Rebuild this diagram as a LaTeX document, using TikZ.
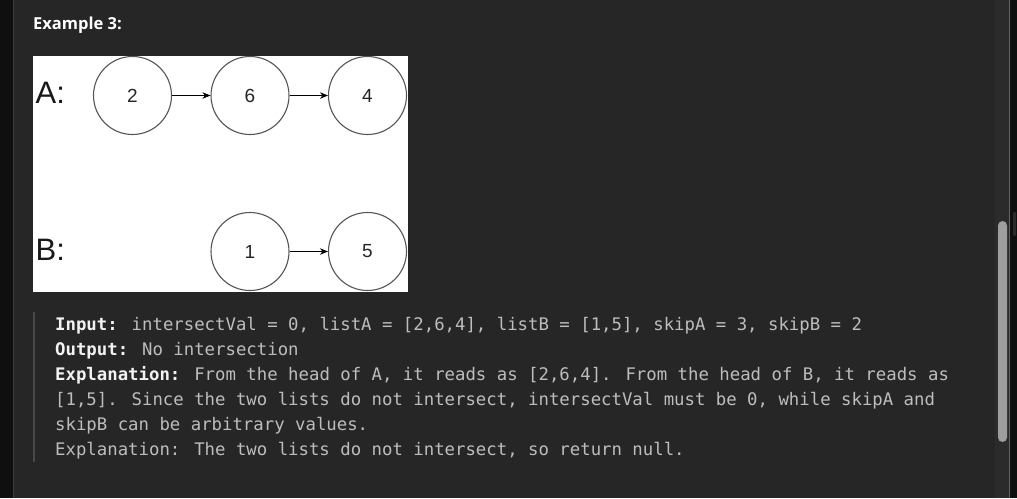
\documentclass[tikz,border=0pt]{standalone}
\usepackage{fontspec}
\setmainfont{Liberation Sans}
\newfontfamily\headfont{Open Sans}
\newfontfamily\codefont{DejaVu Sans Mono}
\usetikzlibrary{arrows.meta}
\definecolor{panelbg}{HTML}{262626}
\definecolor{edgedark}{HTML}{0F0F0F}
\definecolor{sepline}{HTML}{3C3C3C}
\definecolor{trackbg}{HTML}{2B2B2B}
\definecolor{thumbcol}{HTML}{9E9E9E}
\definecolor{quotebar}{HTML}{474747}
\definecolor{codegrey}{HTML}{BDBDBD}
\definecolor{codewhite}{HTML}{F2F2F2}
\definecolor{ringcol}{HTML}{555555}
\tikzset{
  x=1pt, y=-1pt,
  listnode/.style={circle, draw=ringcol, line width=1.1pt, fill=white, minimum size=78pt, inner sep=0pt, font=\fontsize{19}{19}\selectfont, text=black!85},
  rowlabel/.style={anchor=base west, inner sep=0pt, font=\fontsize{31}{31}\selectfont, text=black!90},
  linkarrow/.style={-{Stealth[length=8pt,width=6.5pt]}, line width=0.8pt, black},
  codeline/.style={anchor=base west, inner sep=0pt, text=codegrey, font=\codefont\fontsize{17.33}{17.33}\selectfont},
}
\newcommand{\kw}[1]{\textcolor{codewhite}{\bfseries #1}}
\begin{document}
\begin{tikzpicture}
\useasboundingbox (0,0) rectangle (1017,498);
% backgrounds
\fill[panelbg] (0,0) rectangle (1017,498);
\fill[edgedark] (0,0) rectangle (13,498);
\fill[sepline] (13,0) rectangle (14.3,498);
\fill[trackbg] (995,0) rectangle (1009,498);
\fill[sepline!80!white] (1009,0) rectangle (1010,498);
\fill[edgedark] (1010,0) rectangle (1017,498);
\fill[thumbcol, rounded corners=4.5pt] (998,221) rectangle (1007,442);
\fill[trackbg, rounded corners=1pt] (1013,212) rectangle (1016,236);
% heading
\node[anchor=base west, inner sep=0pt, text=white, font=\headfont\bfseries\fontsize{16.5}{16.5}\selectfont] (title) at (33,29) {Example 3:};
% image
\fill[white] (33,56) rectangle (408,292);
\node[rowlabel] (la) at (35.5,103) {A:};
\node[rowlabel] (lb) at (35.5,260) {B:};
\node[listnode] (a2) at (132.5,95.5) {2};
\node[listnode] (a6) at (250,95.5) {6};
\node[listnode] (a4) at (367.5,95.5) {4};
\node[listnode] (b1) at (250,251.5) {1};
\node[listnode] (b5) at (367.5,251.5) {5};
\draw[linkarrow] (a2) -- (a6);
\draw[linkarrow] (a6) -- (a4);
\draw[linkarrow] (b1) -- (b5);
% quote bar
\fill[quotebar] (33,312) rectangle (35.3,462);
% code text
\node[codeline] (l1) at (55,330) {\kw{Input:} intersectVal = 0, listA = [2,6,4], listB = [1,5], skipA = 3, skipB = 2};
\node[codeline] (l2) at (55,355) {\kw{Output:} No intersection};
\node[codeline] (l3) at (55,380) {\kw{Explanation:} From the head of A, it reads as [2,6,4]. From the head of B, it reads as};
\node[codeline] (l4) at (55,405) {[1,5]. Since the two lists do not intersect, intersectVal must be 0, while skipA and};
\node[codeline] (l5) at (55,430) {skipB can be arbitrary values.};
\node[codeline] (l6) at (55,455) {Explanation: The two lists do not intersect, so return null.};
\end{tikzpicture}
\end{document}
